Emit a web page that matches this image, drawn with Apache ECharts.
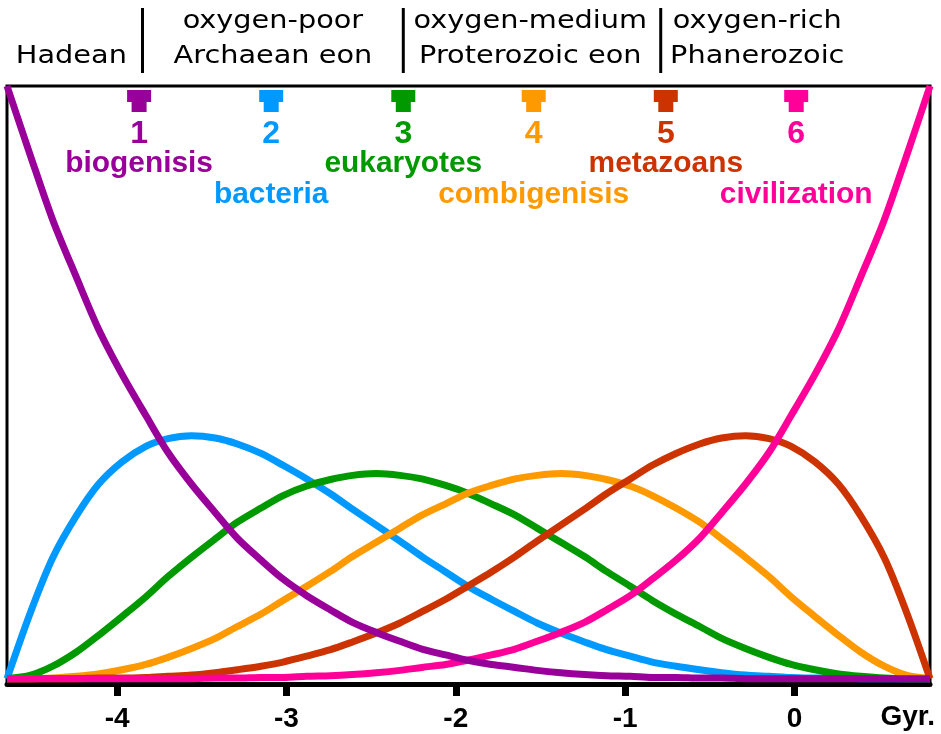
<!DOCTYPE html>
<html><head><meta charset="utf-8">
<script src="https://cdn.jsdelivr.net/npm/echarts@6/dist/echarts.min.js"></script>
<style>html,body{margin:0;padding:0;background:#fff}#c{width:941px;height:734px}</style>
</head><body><div id="c"></div>
<script>
// x positions (Gyr) at which the curves were read
const gyr = [-4.65,-4.51,-4.38,-4.24,-4.11,-3.97,-3.83,-3.70,-3.56,-3.42,-3.29,-3.15,-3.02,-2.88,-2.74,-2.61,-2.47,-2.33,-2.20,-2.06,-1.93,-1.79,-1.65,-1.52,-1.38,-1.24,-1.11,-0.97,-0.84,-0.70,-0.56,-0.43,-0.29,-0.15,-0.02,0.12,0.26,0.39,0.53,0.66,0.80];
const biogenisis   = [1,0.881,0.774,0.677,0.590,0.513,0.444,0.382,0.328,0.280,0.237,0.200,0.168,0.140,0.116,0.095,0.078,0.063,0.050,0.040,0.031,0.024,0.019,0.014,0.010,0.007,0.005,0.004,0.002,0.002,0.001,0.001,0,0,0,0,0,0,0,0,0];
const bacteria     = [0,0.113,0.204,0.275,0.328,0.366,0.392,0.405,0.410,0.406,0.396,0.380,0.360,0.337,0.312,0.286,0.259,0.232,0.206,0.180,0.156,0.134,0.113,0.094,0.077,0.062,0.049,0.038,0.028,0.021,0.015,0.010,0.006,0.004,0.002,0.001,0.001,0,0,0,0];
const eukaryotes   = [0,0.006,0.021,0.045,0.073,0.105,0.138,0.172,0.205,0.236,0.264,0.288,0.309,0.325,0.336,0.343,0.346,0.343,0.337,0.326,0.313,0.295,0.276,0.254,0.230,0.206,0.181,0.156,0.132,0.109,0.088,0.068,0.051,0.036,0.024,0.015,0.008,0.004,0.001,0,0];
const combigenisis = [0,0,0.001,0.004,0.008,0.015,0.024,0.036,0.051,0.068,0.088,0.109,0.132,0.156,0.181,0.206,0.230,0.254,0.276,0.295,0.313,0.326,0.337,0.343,0.346,0.343,0.336,0.325,0.309,0.288,0.264,0.236,0.205,0.172,0.138,0.105,0.073,0.045,0.021,0.006,0];
const metazoans    = [0,0,0,0,0.001,0.001,0.002,0.004,0.006,0.010,0.015,0.021,0.028,0.038,0.049,0.062,0.077,0.094,0.113,0.134,0.156,0.180,0.206,0.232,0.259,0.286,0.312,0.337,0.360,0.380,0.396,0.406,0.410,0.405,0.392,0.366,0.328,0.275,0.204,0.113,0];
const civilization = [0,0,0,0,0,0,0,0,0,0.001,0.001,0.002,0.002,0.004,0.005,0.007,0.010,0.014,0.019,0.024,0.031,0.040,0.050,0.063,0.078,0.095,0.116,0.140,0.168,0.200,0.237,0.280,0.328,0.382,0.444,0.513,0.590,0.677,0.774,0.881,1];

const xTicks = [-4,-3,-2,-1,0];
const markerX = [-3.87,-3.09,-2.31,-1.54,-0.76,0.01];
const markerNums = ['1','2','3','4','5','6'];
const markerNames = ['biogenisis','bacteria','eukaryotes','combigenisis','metazoans','civilization'];
const eonBoundaries = [-3.85,-2.31,-0.79];
const eonCenters = [-4.27,-3.08,-1.56,-0.22];
const oxygenLabels = ['','oxygen-poor','oxygen-medium','oxygen-rich'];
const eonNames = ['Hadean','Archaean eon','Proterozoic eon','Phanerozoic'];
const unitLabel = 'Gyr.';

const palette = ['#990099','#0099ff','#009900','#ff9900','#cc3300','#ff0099'];
const curves = [biogenisis,bacteria,eukaryotes,combigenisis,metazoans,civilization];
const drawOrder = [1,2,3,4,5,0];

const chart = echarts.init(document.getElementById('c'), null, {renderer:'canvas'});
const series = drawOrder.map(i => ({
  type:'line', name: markerNames[i], data: gyr.map((x,k)=>[x, curves[i][k]]),
  showSymbol:false, smooth:0.3, clip:false,
  lineStyle:{color:palette[i], width:7, cap:'butt', join:'round'}, itemStyle:{color:palette[i]}, silent:true, z: 2
}));
series.push({
  type:'scatter', silent:true, clip:false, z:5,
  symbol:'path://M0,0H24V12H19.5V22H4.5V12H0Z', symbolSize:[24,22], symbolOffset:[0,15],
  data: markerX.map((x,i)=>({value:[x,1], itemStyle:{color:palette[i], opacity:1}}))
});

const option = {
  animation:false,
  backgroundColor:'#fff',
  grid:{left:7, right:11, top:86, bottom:50, show:true, borderColor:'#000', borderWidth:3, backgroundColor:'transparent'},
  xAxis:{type:'value', min:-4.65, max:0.8,
    axisLine:{show:true, onZero:false, lineStyle:{color:'#000', width:5}},
    axisTick:{show:true, customValues:xTicks, length:12, lineStyle:{color:'#000', width:7}},
    axisLabel:{show:true, customValues:xTicks, margin:21, color:'#000', fontFamily:'Liberation Sans', fontWeight:'bold', fontSize:28},
    splitLine:{show:false}},
  yAxis:{type:'value', min:-0.009, max:1, show:false, splitLine:{show:false}},
  series
};
chart.setOption(option);

const px = x => chart.convertToPixel({gridIndex:0}, [x, 0])[0];
const g = [];
eonBoundaries.forEach(b => g.push({type:'line', shape:{x1:px(b), y1:8, x2:px(b), y2:73}, style:{stroke:'#000', lineWidth:3}, z:10}));
function txt(x, y, text, font, fill, sx, align){
  return {type:'text', x, y, scaleX:sx||1, z:10,
    style:{text, font, fill, textAlign:align||'center', align:align||'center', textVerticalAlign:'middle', verticalAlign:'middle'}};
}
eonCenters.forEach((c,i) => {
  if (oxygenLabels[i]) g.push(txt(px(c), 21, oxygenLabels[i], '25px "DejaVu Sans"', '#000', 1.15));
  g.push(txt(px(c), 56, eonNames[i], '25px "DejaVu Sans"', '#000', 1.15));
});
markerX.forEach((m,i) => {
  g.push(txt(px(m), 134, markerNums[i], 'bold 32px "Liberation Sans"', palette[i], 1));
  g.push(txt(px(m), i % 2 === 0 ? 164 : 195, markerNames[i], 'bold 29px "Liberation Sans"', palette[i], 1.03));
});
g.push(txt(px(0.8) + 5, 717, unitLabel, 'bold 28px "Liberation Sans"', '#000', 1, 'right'));
chart.setOption({graphic: g});
</script></body></html>
